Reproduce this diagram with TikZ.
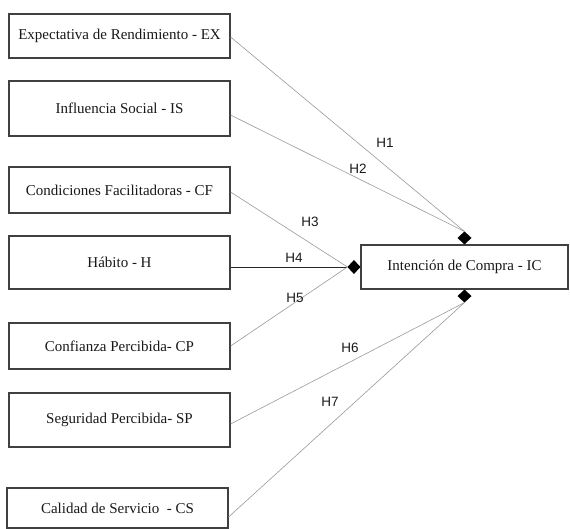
\documentclass[tikz,border=0pt]{standalone}
\usepackage{fontspec}
\setmainfont{Liberation Serif}
\newfontfamily\labelfont{Liberation Sans}
\begin{document}
\begin{tikzpicture}[x=1pt,y=-1pt,
  construct/.style={draw=black!75, line width=1.1pt, fill=white, text=black!90,
    font=\fontsize{15}{17}\selectfont, inner sep=0pt, minimum width=221pt},
  target/.style={construct, minimum width=207pt, minimum height=44pt},
  link/.style={draw=black!40, line width=0.6pt},
  strong/.style={draw=black!85, line width=1pt},
  hyp/.style={font=\labelfont\fontsize{13.5}{15}\selectfont, text=black!90, inner sep=0pt}]
\useasboundingbox (0,0) rectangle (570,528);

% exogenous constructs
\node[construct, minimum height=44pt] (ex) at (119.5,36)    {Expectativa de Rendimiento - EX};
\node[construct, minimum height=55pt] (is) at (119.5,108.5) {Influencia Social - IS};
\node[construct, minimum height=46pt] (cf) at (119.5,190)   {Condiciones Facilitadoras - CF};
\node[construct, minimum height=53pt] (h)  at (119.5,262.5) {Hábito - H};
\node[construct, minimum height=46pt] (cp) at (119.5,346)   {Confianza Percibida- CP};
\node[construct, minimum height=54pt] (sp) at (119.5,420)   {Seguridad Percibida- SP};
\node[construct, minimum height=40pt] (cs) at (117.5,508)   {Calidad de Servicio\ \ - CS};

% endogenous construct
\node[target] (ic) at (464.5,267) {Intención de Compra - IC};

% diamond ports: outer vertex where the paths arrive
\coordinate (pt) at ([yshift=13pt]ic.north);
\coordinate (pb) at ([yshift=-13pt]ic.south);
\coordinate (pl) at ([xshift=-13pt]ic.west);
\fill[black] (ic.north) -- ++(7,-6.5) -- (pt) -- ++(-7,6.5) -- cycle;
\fill[black] (ic.south) -- ++(7,6.5) -- (pb) -- ++(-7,-6.5) -- cycle;
\fill[black] (ic.west) -- ++(-6.5,7) -- (pl) -- ++(6.5,-7) -- cycle;

% hypothesised paths
\draw[link]   ([yshift=-1pt]ex.east) -- (pt);
\draw[link]   ([yshift=-6.5pt]is.east) -- (pt);
\draw[link]   ([yshift=-2pt]cf.east) -- (pl);
\draw[strong] ([yshift=-4.5pt]h.east) -- (pl);
\draw[link]   (cp.east) -- (pl);
\draw[link]   ([yshift=-4pt]sp.east) -- (pb);
\draw[link]   ([yshift=-9pt]cs.east) -- (pb);

% path labels
\node[hyp] (l1) at (385,143) {H1};
\node[hyp] (l2) at (358,169) {H2};
\node[hyp] (l3) at (310,222) {H3};
\node[hyp] (l4) at (294,258) {H4};
\node[hyp] (l5) at (295,298) {H5};
\node[hyp] (l6) at (350,348) {H6};
\node[hyp] (l7) at (330,402) {H7};
\end{tikzpicture}
\end{document}
